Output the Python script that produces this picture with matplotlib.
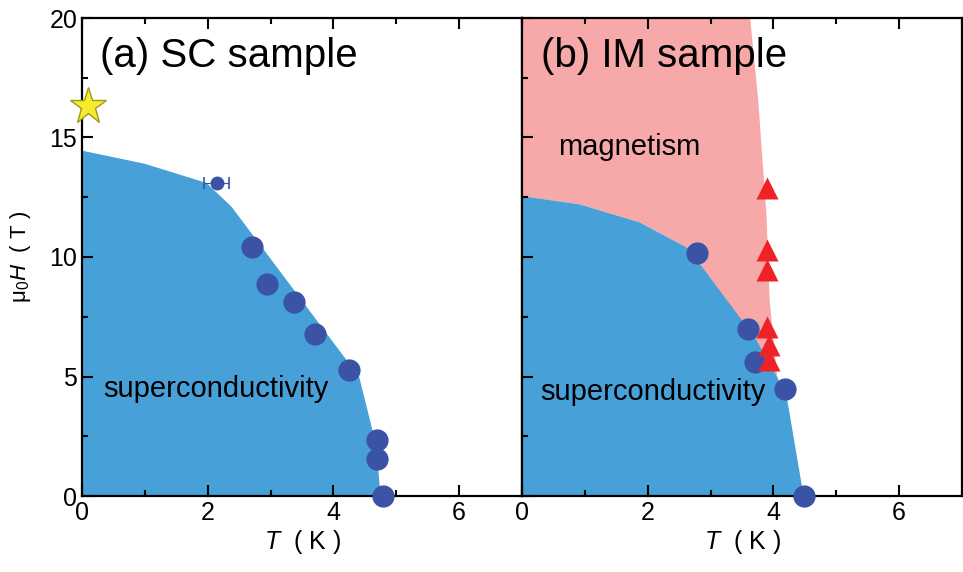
import matplotlib
matplotlib.use("Agg")
import matplotlib.pyplot as plt
from matplotlib.ticker import MultipleLocator

plt.rcParams['font.family'] = ['Liberation Sans', 'DejaVu Sans']
plt.rcParams['mathtext.fontset'] = 'custom'
plt.rcParams['mathtext.rm'] = 'Liberation Sans'
plt.rcParams['mathtext.it'] = 'Liberation Sans:italic'

# ---- data: SC sample ----
sc_T = [2.71, 2.94, 3.37, 3.71, 4.25, 4.70, 4.70, 4.79]
sc_H = [10.4, 8.87, 8.12, 6.78, 5.27, 2.34, 1.55, 0.0]
sc_small_T = [2.14]
sc_small_H = [13.1]
sc_small_Terr = [0.2]
star_T = [0.1]
star_H = [16.3]
sc_bound_T = [0.0, 1.0, 1.98, 2.38, 4.41, 4.62, 4.70, 4.75]
sc_bound_H = [14.45, 13.9, 13.1, 12.1, 4.98, 2.76, 1.5, 0.0]

# ---- data: IM sample ----
im_T = [2.79, 3.60, 3.70, 4.19, 4.49]
im_H = [10.17, 6.99, 5.61, 4.48, 0.0]
im_tri_T = [3.90, 3.90, 3.90, 3.90, 3.93, 3.93]
im_tri_H = [12.9, 10.3, 9.46, 7.07, 6.3, 5.7]
im_sc_bound_T = [0.0, 0.92, 1.87, 2.64, 3.70, 4.06, 4.22, 4.48]
im_sc_bound_H = [12.55, 12.2, 11.45, 10.37, 6.65, 4.98, 4.02, 0.0]
im_mag_bound_T = [3.63, 3.76, 3.89, 3.94, 4.06]
im_mag_bound_H = [20.0, 16.5, 11.7, 8.2, 4.98]

BLUE_FILL = '#47A0D8'
DOT = '#3A53A4'
PINK = '#F7A8A9'
RED = '#EE2227'

fig = plt.figure(figsize=(9.63, 5.72), dpi=100)
L, B, W, H = 82/963, 76/572, 440/963, 478/572
ax1 = fig.add_axes([L, B, W, H])
ax2 = fig.add_axes([522/963, B, W, H])

for ax in (ax1, ax2):
    ax.set_xlim(0, 7)
    ax.set_ylim(0, 20)
    ax.xaxis.set_major_locator(MultipleLocator(2))
    ax.xaxis.set_minor_locator(MultipleLocator(1))
    ax.yaxis.set_major_locator(MultipleLocator(5))
    ax.yaxis.set_minor_locator(MultipleLocator(2.5))
    ax.tick_params(which='both', direction='in', top=True, right=False, width=1.5, labelsize=18)
    ax.tick_params(which='major', length=8)
    ax.tick_params(which='minor', length=4.5)
    for s in ax.spines.values():
        s.set_linewidth(1.6)
    ax.set_xlabel(r'$\it{T}$  ( K )', fontsize=18, labelpad=2)

# panel (a)
ax1.fill(sc_bound_T + [0.0], sc_bound_H + [0.0], color=BLUE_FILL, lw=0, zorder=1)
ax1.plot(sc_T, sc_H, 'o', color=DOT, ms=16, mec='none', zorder=3, clip_on=False)
ax1.errorbar(sc_small_T, sc_small_H, xerr=sc_small_Terr, fmt='o', color=DOT, ms=10,
             mec='none', elinewidth=0.8, capsize=4, capthick=1.2, zorder=3)
ax1.plot(star_T, star_H, '*', ms=28, color='#F7EC2C', mec='#9E9820', mew=1, zorder=5, clip_on=False)
ax1.text(0.29, 17.95, '(a) SC sample', fontsize=29, va='baseline', ha='left')
ax1.text(0.33, 4.14, 'superconductivity', fontsize=21, va='baseline', ha='left')
ax1.set_ylabel('\u03bc$_0$$\\it{H}$  ( T )', fontsize=16, labelpad=12)
ax1.set_yticks([0, 5, 10, 15, 20])

# panel (b)
poly_T = [0.0] + im_mag_bound_T + im_sc_bound_T[:5][::-1][1:] + [0.0]
poly_H = [20.0] + im_mag_bound_H + im_sc_bound_H[:5][::-1][1:] + [12.55]
ax2.fill(poly_T, poly_H, color=PINK, lw=0, zorder=1)
ax2.fill(im_sc_bound_T + [0.0], im_sc_bound_H + [0.0], color=BLUE_FILL, lw=0, zorder=1)
ax2.plot(im_T, im_H, 'o', color=DOT, ms=16, mec='none', zorder=3, clip_on=False)
ax2.plot(im_tri_T, im_tri_H, '^', color=RED, ms=16, mec='none', zorder=3)
ax2.text(0.30, 17.95, '(b) IM sample', fontsize=29, va='baseline', ha='left', zorder=4)
ax2.text(0.57, 14.27, 'magnetism', fontsize=21, va='baseline', ha='left')
ax2.text(0.29, 4.0, 'superconductivity', fontsize=21, va='baseline', ha='left')
ax2.tick_params(labelleft=False)

fig.savefig('out.png', dpi=100)
